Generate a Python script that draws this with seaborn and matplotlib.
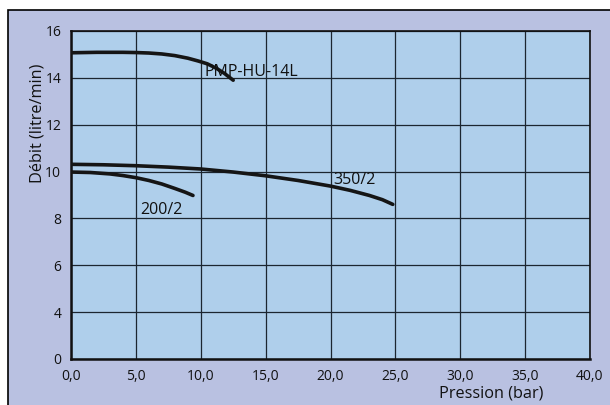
import matplotlib
matplotlib.use("Agg")
import matplotlib.pyplot as plt
import matplotlib.patches as mpatches
import pandas as pd
import seaborn as sns

# courbes (pression en bar, débit en litre/min)
pmp_x = [0, 2, 4, 5, 6, 7, 8, 9, 9.8, 10.5, 11.2, 11.8, 12.5]
pmp_y = [15.07, 15.09, 15.09, 15.08, 15.06, 15.02, 14.95, 14.84, 14.72, 14.6, 14.41, 14.2, 13.9]
p350_x = [0, 2.5, 5, 7.5, 10, 12.5, 15, 17.5, 20, 21.5, 23, 24, 24.8]
p350_y = [10.31, 10.29, 10.25, 10.19, 10.11, 9.98, 9.82, 9.62, 9.38, 9.2, 8.98, 8.8, 8.6]
p200_x = [0, 1.5, 3, 4, 5, 6, 7, 8, 8.8, 9.4]
p200_y = [9.98, 9.96, 9.9, 9.83, 9.74, 9.62, 9.47, 9.28, 9.12, 8.98]

x_ticks = [0, 5, 10, 15, 20, 25, 30, 35, 40]
x_ticklabels = ["0,0", "5,0", "10,0", "15,0", "20,0", "25,0", "30,0", "35,0", "40,0"]
# the bottom tick is labelled 0 although it sits where 2 would be
y_ticks = [2, 4, 6, 8, 10, 12, 14, 16]
y_ticklabels = ["0", "4", "6", "8", "10", "12", "14", "16"]

labels = {"PMP-HU-14L": (10.3, 14.25), "350/2": (20.2, 9.64), "200/2": (5.3, 8.36)}

sns.set_style("ticks")
plt.rcParams['font.family'] = ['Open Sans', 'DejaVu Sans']

fig = plt.figure(figsize=(6.1, 4.05), dpi=100)
fig.patch.set_facecolor("white")
# lavender panel behind the chart
panel = mpatches.Rectangle((8 / 610, -0.01), 1.0, 1 - 10 / 405 + 0.01, transform=fig.transFigure,
                           facecolor="#b9c1e1", edgecolor="black", linewidth=1.2, zorder=-5)
fig.patches.append(panel)

ax = fig.add_axes([71 / 610, 1 - 359 / 405, (590 - 71) / 610, (359 - 31) / 405])
ax.set_zorder(2)
ax.set_facecolor("#afcfeb")

frames = []
for name, xs, ys in [("PMP-HU-14L", pmp_x, pmp_y), ("350/2", p350_x, p350_y), ("200/2", p200_x, p200_y)]:
    frames.append(pd.DataFrame({"pression": xs, "debit": ys, "pompe": name}))
df = pd.concat(frames, ignore_index=True)

for name, sub in df.groupby("pompe", sort=False):
    sns.lineplot(data=sub, x="pression", y="debit", ax=ax, color="#151515",
                 linewidth=2.6, sort=False, estimator=None, zorder=3)

for txt, (tx, ty) in labels.items():
    ax.text(tx, ty, txt, fontsize=11.5, ha="left", va="center", color="#111111", zorder=4)

ax.set_xlim(0, 40)
ax.set_ylim(2, 16)
ax.set_xticks(x_ticks)
ax.set_xticklabels(x_ticklabels)
ax.set_yticks(y_ticks)
ax.set_yticklabels(y_ticklabels)
ax.tick_params(length=0, labelsize=10, colors="#111111")
ax.tick_params(axis="x", pad=7)
ax.tick_params(axis="y", pad=7)
ax.grid(True, color="#1c2630", linewidth=0.9, zorder=1)
ax.set_axisbelow(True)

for side in ["left", "bottom"]:
    ax.spines[side].set_linewidth(1.8)
    ax.spines[side].set_color("#111111")
for side in ["top", "right"]:
    ax.spines[side].set_visible(True)
    ax.spines[side].set_linewidth(1.2)
    ax.spines[side].set_color("#111111")

ax.set_xlabel("")
ax.set_ylabel("")
fig.text(37 / 610, 1 - 123 / 405, "Débit (litre/min)", fontsize=11.7, rotation=90,
         ha="center", va="center", color="#111111")
fig.text(543 / 610, 1 - 394 / 405, "Pression (bar)", fontsize=11.7, ha="right", va="center", color="#111111")

fig.savefig("out.png", dpi=100, facecolor=fig.get_facecolor())
